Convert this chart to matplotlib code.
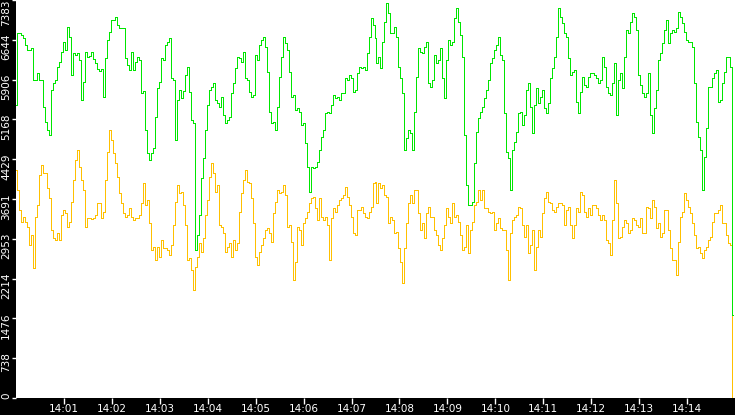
import numpy as np
import pandas as pd
import matplotlib
matplotlib.use("Agg")
import matplotlib.pyplot as plt
import matplotlib.dates as mdates
from matplotlib.transforms import ScaledTranslation

# series values, 2.5 s apart from 14:00:00
green_1 = [5435, 6771, 6771, 6734, 6678, 6548, 6456, 6456, 6493, 5899, 5899, 6029, 5899, 5899, 5398, 5120, 4972, 4879, 5714, 5843,
           5899, 6140, 6233, 6418, 6604, 6456, 6882, 6697, 5992, 6400, 6363, 6400, 6270, 5528, 5862, 6418, 6326, 6344, 6418, 6289,
           6214, 6103, 6066, 6103, 5584, 6307, 6641, 6789, 7012, 7012, 7068, 6919, 6864, 6864, 6864, 6307, 6177, 6085, 6418, 6085]
green_2 = [6233, 6326, 6270, 5658, 5695, 4972, 4545, 4415, 4545, 4638, 5213, 5751, 5862, 6307, 6270, 6548, 6604, 6678, 5936, 5899,
           4786, 5528, 5714, 5565, 5695, 5992, 6140, 5676, 5157, 5101, 2746, 3024, 3395, 4081, 4452, 4972, 5435, 5714, 5769, 5843,
           5528, 5472, 5398, 5584, 5250, 5101, 5157, 5213, 5658, 5843, 6122, 6326, 6307, 6233, 6418, 5936, 5899, 5676, 5584, 5621]
green_3 = [6363, 6270, 6548, 6641, 6697, 6511, 6047, 5305, 5101, 5120, 4972, 5398, 5955, 6326, 6697, 6585, 6456, 6047, 5584, 5621,
           5342, 5380, 5305, 5064, 5101, 4730, 4285, 3821, 4285, 4267, 4285, 4378, 4601, 4842, 4972, 5287, 5305, 5287, 5435, 5621,
           5565, 5584, 5528, 5658, 5658, 5936, 5899, 5992, 5936, 5676, 5714, 6029, 6140, 6122, 6140, 6085, 6400, 6697, 7049, 6919]
green_4 = [6678, 6214, 6326, 6122, 6604, 6975, 7330, 7142, 6771, 6771, 6882, 6697, 6140, 5936, 5658, 4601, 4823, 4972, 4916, 4601,
           5305, 5955, 6493, 6418, 6400, 6511, 6604, 5843, 5769, 5899, 6363, 6214, 6270, 6493, 5936, 5565, 6270, 6641, 6548, 6604,
           7049, 7235, 6975, 6734, 6326, 4879, 3951, 3580, 3580, 3636, 4359, 4934, 5194, 5305, 5398, 5565, 5714, 5899, 6214, 6307]
green_5 = [6456, 6548, 6697, 6363, 6270, 5287, 4563, 4452, 3859, 4601, 4749, 4934, 5287, 5305, 5064, 5250, 5714, 5843, 5398, 4916,
           5435, 5751, 5472, 5584, 5714, 5380, 5287, 5472, 5936, 6122, 6326, 6697, 7235, 7068, 6956, 6771, 6697, 6307, 5992, 6047,
           6085, 5491, 5287, 5676, 5955, 5806, 5769, 5955, 6029, 6029, 5992, 5936, 5843, 5899, 6326, 6140, 5769, 5658, 5621, 5843]
green_6 = [6214, 5250, 5899, 6029, 5751, 6326, 6827, 6771, 6975, 7142, 7068, 6827, 5992, 5806, 5658, 5584, 5658, 6029, 5250, 4916,
           5380, 5714, 6270, 6400, 6585, 6827, 7012, 6585, 6771, 6827, 6789, 6864, 7160, 7068, 6956, 6789, 6641, 6604, 6604, 6511,
           5843, 5120, 4842, 4601, 3859, 4471, 5009, 5769, 5769, 5936, 6029, 6085, 5491, 5528, 5843, 6047, 6326, 6326, 6140, 1540]

yellow_1 = [4230, 3859, 3488, 3265, 3358, 3265, 3172, 2838, 3024, 2412, 3358, 3580, 4137, 4322, 4174, 4174, 3896, 3710, 3117, 2968,
            2931, 3061, 2931, 3395, 3488, 3432, 3172, 3265, 3636, 4044, 4415, 4601, 4285, 4044, 3859, 3172, 3339, 3339, 3321, 3339,
            3395, 3617, 3617, 3339, 3450, 4044, 4563, 4972, 4786, 4545, 4359, 4100, 3803, 3617, 3432, 3358, 3395, 3525, 3358, 3302]
yellow_2 = [3339, 3339, 3395, 3617, 3988, 3580, 3673, 3246, 2746, 2801, 2560, 2801, 2616, 2931, 2783, 2783, 2746, 2653, 2838, 3209,
            3636, 3951, 3803, 3821, 3580, 3209, 2560, 2597, 2375, 2003, 2430, 2616, 2875, 2708, 2968, 3395, 3673, 4100, 4359, 4174,
            3821, 3951, 3209, 3172, 3061, 2708, 2801, 2875, 2616, 2931, 2746, 2875, 3450, 3803, 4044, 4230, 4007, 3988, 3710, 3246]
yellow_3 = [2616, 2467, 2708, 2838, 2968, 3117, 3154, 3061, 2894, 3432, 3636, 3859, 3803, 3821, 3951, 3766, 3172, 3209, 2894, 2189,
            2523, 3172, 3117, 2838, 3246, 3339, 3450, 3617, 3710, 3729, 3525, 3302, 3710, 3358, 3302, 3358, 3209, 2560, 3339, 3525,
            3450, 3580, 3673, 3710, 3766, 3914, 3729, 3580, 3358, 3061, 3024, 3488, 3488, 3543, 3432, 3358, 3339, 3450, 3543, 3988]
yellow_4 = [4007, 3617, 3988, 3896, 3951, 3766, 3729, 3246, 3358, 3302, 3061, 3079, 2783, 2523, 2133, 2783, 3246, 3617, 3766, 3617,
            3859, 3859, 3432, 3117, 3246, 2968, 3432, 3543, 3358, 3358, 3117, 3024, 2838, 2746, 2968, 3209, 3525, 3358, 3246, 3617,
            3358, 3395, 3265, 3024, 2746, 2801, 3209, 2690, 3117, 3265, 3580, 3636, 3859, 3673, 3859, 3525, 3525, 3450, 3432, 3450]
yellow_5 = [3117, 3246, 3339, 3154, 3117, 3117, 2746, 2189, 3061, 3302, 3358, 3395, 3543, 3525, 3209, 2987, 3209, 2690, 2838, 3117,
            2375, 2801, 3117, 2987, 3432, 3710, 3821, 3636, 3617, 3488, 3450, 3543, 3617, 3617, 3580, 3209, 3488, 3543, 3209, 2968,
            3209, 3525, 3450, 3821, 3766, 3450, 3358, 3525, 3395, 3580, 3580, 3525, 3395, 3302, 3395, 3302, 2931, 2875, 2653, 3302]
yellow_6 = [4044, 3617, 2968, 2987, 3172, 3302, 3246, 3061, 3117, 3339, 3302, 3209, 3172, 3339, 3061, 3061, 3543, 3525, 3339, 3673,
            3543, 3154, 3246, 2987, 3061, 3488, 3488, 3117, 2783, 2560, 2560, 2282, 2894, 3358, 3450, 3803, 3673, 3543, 3432, 3246,
            3024, 2783, 2801, 2690, 2597, 2746, 2801, 2931, 2987, 3265, 3432, 3432, 3488, 3580, 3246, 3246, 3024, 2875, 2838, 0]

green = green_1 + green_2 + green_3 + green_4 + green_5 + green_6
yellow = yellow_1 + yellow_2 + yellow_3 + yellow_4 + yellow_5 + yellow_6

y_max = 7383
y_tick_labels = ["0", "738", "1476", "2214", "2953", "3691", "4429", "5168", "5906", "6644", "7383"]

times = pd.date_range("2024-01-01 14:00:00", periods=len(green), freq="2500ms")

fig = plt.figure(figsize=(7.35, 4.15), dpi=100, facecolor="black")
ax = fig.add_axes([16 / 735, 17 / 415, 719 / 735, 398 / 415])
ax.set_facecolor("white")

ax.plot(times, yellow, color="#ffc000", lw=0.5, drawstyle="steps-mid", antialiased=False)
ax.plot(times, green, color="#00e600", lw=0.5, drawstyle="steps-mid", antialiased=False)

ax.set_xlim(pd.Timestamp("2024-01-01 14:00:00"), pd.Timestamp("2024-01-01 14:15:00"))
ax.set_ylim(0, y_max)

ax.xaxis.set_major_locator(mdates.MinuteLocator(byminute=range(1, 15)))
ax.xaxis.set_major_formatter(mdates.DateFormatter("%H:%M"))
ax.set_yticks(np.linspace(0, y_max, len(y_tick_labels)))
ax.set_yticklabels(y_tick_labels)

for s in ax.spines.values():
    s.set_visible(False)

ax.tick_params(axis="x", colors="white", labelsize=7.5, length=4, width=1, pad=0.5)
ax.tick_params(axis="y", colors="white", labelsize=7.5, length=3, width=1, pad=0.5)

# rotated y labels: end of the text sits a few pixels above its tick
shift = ScaledTranslation(0, 6 / 100, fig.dpi_scale_trans)
labels = ax.get_yticklabels()
for i, lab in enumerate(labels):
    lab.set_rotation(90)
    lab.set_va("top")
    if i < len(labels) - 1:
        lab.set_transform(lab.get_transform() + shift)

fig.savefig("out.png", dpi=100, facecolor=fig.get_facecolor())
